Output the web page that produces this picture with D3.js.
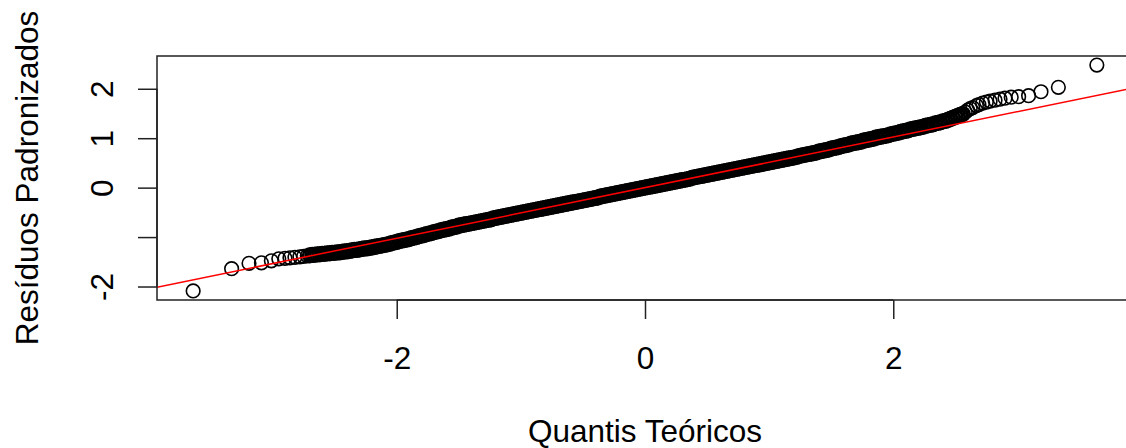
<!DOCTYPE html>
<html>
<head>
<meta charset="utf-8">
<script src="https://cdn.jsdelivr.net/npm/d3@7"></script>
<style>
  html, body { margin: 0; padding: 0; background: #fff; }
  svg { display: block; }
</style>
</head>
<body>
<svg class="chart"></svg>
<script>
// Theoretical quantiles and standardized residuals
const leftTailX = [-3.64, -3.33, -3.19, -3.09, -3.01, -2.95, -2.90, -2.86, -2.82, -2.78, -2.75, -2.72];
const leftTailY = [-2.09, -1.64, -1.53, -1.52, -1.48, -1.44, -1.43, -1.42, -1.41, -1.40, -1.39, -1.38];

const bandX = [
  -2.70, -2.68, -2.66, -2.64, -2.62, -2.60, -2.58, -2.56, -2.54, -2.52,
  -2.50, -2.48, -2.46, -2.44, -2.42, -2.40, -2.38, -2.36, -2.34, -2.32,
  -2.30, -2.28, -2.26, -2.24, -2.22, -2.20, -2.18, -2.16, -2.14, -2.12,
  -2.10, -2.08, -2.06, -2.04, -2.02, -2.00, -1.98, -1.96, -1.94, -1.92,
  -1.90, -1.88, -1.86, -1.84, -1.82, -1.80, -1.78, -1.76, -1.74, -1.72,
  -1.70, -1.68, -1.66, -1.64, -1.62, -1.60, -1.58, -1.56, -1.54, -1.52,
  -1.50, -1.48, -1.46, -1.44, -1.42, -1.40, -1.38, -1.36, -1.34, -1.32,
  -1.30, -1.28, -1.26, -1.24, -1.22, -1.20, -1.18, -1.16, -1.14, -1.12,
  -1.10, -1.08, -1.06, -1.04, -1.02, -1.00, -0.98, -0.96, -0.94, -0.92,
  -0.90, -0.88, -0.86, -0.84, -0.82, -0.80, -0.78, -0.76, -0.74, -0.72,
  -0.70, -0.68, -0.66, -0.64, -0.62, -0.60, -0.58, -0.56, -0.54, -0.52,
  -0.50, -0.48, -0.46, -0.44, -0.42, -0.40, -0.38, -0.36, -0.34, -0.32,
  -0.30, -0.28, -0.26, -0.24, -0.22, -0.20, -0.18, -0.16, -0.14, -0.12,
  -0.10, -0.08, -0.06, -0.04, -0.02, 0.00, 0.02, 0.04, 0.06, 0.08,
  0.10, 0.12, 0.14, 0.16, 0.18, 0.20, 0.22, 0.24, 0.26, 0.28,
  0.30, 0.32, 0.34, 0.36, 0.38, 0.40, 0.42, 0.44, 0.46, 0.48,
  0.50, 0.52, 0.54, 0.56, 0.58, 0.60, 0.62, 0.64, 0.66, 0.68,
  0.70, 0.72, 0.74, 0.76, 0.78, 0.80, 0.82, 0.84, 0.86, 0.88,
  0.90, 0.92, 0.94, 0.96, 0.98, 1.00, 1.02, 1.04, 1.06, 1.08,
  1.10, 1.12, 1.14, 1.16, 1.18, 1.20, 1.22, 1.24, 1.26, 1.28,
  1.30, 1.32, 1.34, 1.36, 1.38, 1.40, 1.42, 1.44, 1.46, 1.48,
  1.50, 1.52, 1.54, 1.56, 1.58, 1.60, 1.62, 1.64, 1.66, 1.68,
  1.70, 1.72, 1.74, 1.76, 1.78, 1.80, 1.82, 1.84, 1.86, 1.88,
  1.90, 1.92, 1.94, 1.96, 1.98, 2.00, 2.02, 2.04, 2.06, 2.08,
  2.10, 2.12, 2.14, 2.16, 2.18, 2.20, 2.22, 2.24, 2.26, 2.28,
  2.30, 2.32, 2.34, 2.36, 2.38, 2.40, 2.42, 2.44, 2.46, 2.48,
  2.50, 2.52, 2.54, 2.56
];
const bandY = [
  -1.37, -1.36, -1.36, -1.35, -1.35, -1.34, -1.34, -1.33, -1.33, -1.32,
  -1.32, -1.31, -1.31, -1.30, -1.29, -1.29, -1.28, -1.27, -1.26, -1.26,
  -1.25, -1.24, -1.23, -1.23, -1.22, -1.21, -1.20, -1.19, -1.18, -1.17,
  -1.16, -1.15, -1.14, -1.12, -1.11, -1.10, -1.08, -1.07, -1.06, -1.05,
  -1.04, -1.02, -1.01, -1.00, -0.98, -0.97, -0.96, -0.94, -0.93, -0.92,
  -0.90, -0.89, -0.88, -0.86, -0.85, -0.84, -0.83, -0.81, -0.80, -0.79,
  -0.77, -0.76, -0.75, -0.74, -0.73, -0.72, -0.71, -0.70, -0.69, -0.68,
  -0.67, -0.66, -0.65, -0.64, -0.62, -0.61, -0.60, -0.59, -0.58, -0.57,
  -0.56, -0.55, -0.54, -0.53, -0.52, -0.51, -0.50, -0.49, -0.48, -0.47,
  -0.46, -0.45, -0.44, -0.43, -0.42, -0.41, -0.40, -0.39, -0.38, -0.37,
  -0.36, -0.35, -0.34, -0.33, -0.32, -0.31, -0.30, -0.29, -0.28, -0.27,
  -0.26, -0.25, -0.24, -0.23, -0.22, -0.21, -0.20, -0.18, -0.17, -0.16,
  -0.15, -0.14, -0.13, -0.12, -0.11, -0.10, -0.09, -0.08, -0.07, -0.06,
  -0.05, -0.04, -0.03, -0.02, -0.01, 0.00, 0.01, 0.02, 0.03, 0.04,
  0.05, 0.06, 0.07, 0.08, 0.09, 0.10, 0.11, 0.12, 0.13, 0.14,
  0.15, 0.16, 0.17, 0.18, 0.20, 0.21, 0.22, 0.23, 0.24, 0.25,
  0.26, 0.27, 0.28, 0.29, 0.30, 0.31, 0.32, 0.33, 0.34, 0.35,
  0.36, 0.37, 0.38, 0.39, 0.40, 0.41, 0.42, 0.43, 0.44, 0.45,
  0.46, 0.47, 0.48, 0.49, 0.50, 0.51, 0.52, 0.53, 0.54, 0.55,
  0.56, 0.57, 0.58, 0.59, 0.60, 0.61, 0.62, 0.64, 0.65, 0.66,
  0.67, 0.68, 0.69, 0.70, 0.71, 0.73, 0.74, 0.75, 0.76, 0.77,
  0.79, 0.80, 0.81, 0.82, 0.84, 0.85, 0.86, 0.87, 0.89, 0.90,
  0.91, 0.92, 0.93, 0.95, 0.96, 0.97, 0.98, 0.99, 1.01, 1.02,
  1.03, 1.04, 1.05, 1.06, 1.08, 1.09, 1.10, 1.11, 1.13, 1.14,
  1.15, 1.16, 1.18, 1.19, 1.20, 1.21, 1.22, 1.23, 1.25, 1.26,
  1.27, 1.28, 1.30, 1.31, 1.32, 1.34, 1.35, 1.37, 1.39, 1.41,
  1.43, 1.45, 1.47, 1.49
];

const rightTailX = [2.58, 2.60, 2.62, 2.64, 2.67, 2.69, 2.72, 2.75, 2.78, 2.82, 2.86, 2.90, 2.95, 3.01, 3.09, 3.19, 3.33, 3.64];
const rightTailY = [1.53, 1.57, 1.60, 1.62, 1.66, 1.68, 1.71, 1.73, 1.75, 1.77, 1.79, 1.81, 1.83, 1.84, 1.86, 1.94, 2.03, 2.48];

// qqline (red reference line)
const lineSlope = 0.512;
const lineIntercept = 0;

const xTicks = [-2, 0, 2];
const xTickLabels = ['-2', '0', '2'];
const yTicks = [-2, -1, 0, 1, 2];
const yTickLabels = ['-2', '', '0', '1', '2'];

const xTitle = 'Quantis Teóricos';
const yTitle = 'Resíduos Padronizados';

// ---- layout ----
const svgWidth = 1126;
const svgHeight = 448;
const plot = { left: 157, top: 56, right: 1133, bottom: 300 };
const font = '"Liberation Sans", Arial, Helvetica, sans-serif';
const fontSize = 31.5;

const tails = []
  .concat(leftTailX.map((x, i) => ({ x: x, y: leftTailY[i] })))
  .concat(rightTailX.map((x, i) => ({ x: x, y: rightTailY[i] })));
const band = bandX.map((x, i) => ({ x: x, y: bandY[i] }));
const points = tails.concat(band);

// R style axis limits: data range extended by 4%
function rLimits(values) {
  const [lo, hi] = d3.extent(values);
  const pad = (hi - lo) * 0.04;
  return [lo - pad, hi + pad];
}

const xScale = d3.scaleLinear()
  .domain(rLimits(points.map(d => d.x)))
  .range([plot.left, plot.right]);

const yScale = d3.scaleLinear()
  .domain(rLimits(points.map(d => d.y)))
  .range([plot.bottom, plot.top]);

const svg = d3.select('.chart')
  .attr('width', svgWidth)
  .attr('height', svgHeight);

svg.append('defs').append('clipPath')
  .attr('id', 'plot-clip')
  .append('rect')
  .attr('x', plot.left)
  .attr('y', plot.top)
  .attr('width', plot.right - plot.left)
  .attr('height', plot.bottom - plot.top);

const inner = svg.append('g').attr('clip-path', 'url(#plot-clip)');

// points (open circles); the dense middle is drawn a little heavier so it
// closes up into the solid band the thousands of overlapping points make
function drawPoints(data, cls, strokeWidth) {
  inner.selectAll('.' + cls)
    .data(data)
    .enter()
    .append('circle')
    .attr('class', cls)
    .attr('cx', d => xScale(d.x))
    .attr('cy', d => yScale(d.y))
    .attr('r', 6.8)
    .attr('fill', 'none')
    .attr('stroke', '#000')
    .attr('stroke-width', strokeWidth);
}
drawPoints(band, 'pt-band', 2.6);
drawPoints(tails, 'pt-tail', 1.6);

// qq line
const xd = xScale.domain();
inner.append('path')
  .datum(xd.map(x => ({ x: x, y: lineIntercept + lineSlope * x })))
  .attr('d', d3.line().x(d => xScale(d.x)).y(d => yScale(d.y)))
  .attr('fill', 'none')
  .attr('stroke', '#ff0000')
  .attr('stroke-width', 1.5);

// box
svg.append('rect')
  .attr('x', plot.left)
  .attr('y', plot.top)
  .attr('width', plot.right - plot.left)
  .attr('height', plot.bottom - plot.top)
  .attr('fill', 'none')
  .attr('stroke', '#222')
  .attr('stroke-width', 1.5);

// x axis
const xAxisGroup = svg.append('g')
  .attr('transform', 'translate(0,' + plot.bottom + ')')
  .call(d3.axisBottom(xScale).tickValues(xTicks).tickSize(19)
    .tickFormat((d, i) => xTickLabels[i]));
xAxisGroup.select('.domain').remove();
xAxisGroup.append('line')
  .attr('x1', xScale(xTicks[0])).attr('x2', xScale(xTicks[xTicks.length - 1]))
  .attr('stroke', '#222').attr('stroke-width', 1.5);
xAxisGroup.selectAll('.tick line').attr('stroke', '#222').attr('stroke-width', 1.5);
xAxisGroup.selectAll('.tick text')
  .attr('y', 69)
  .attr('dy', 0)
  .attr('fill', '#000')
  .attr('font-family', font)
  .attr('font-size', fontSize);

// y axis
const yAxisGroup = svg.append('g')
  .attr('transform', 'translate(' + plot.left + ',0)')
  .call(d3.axisLeft(yScale).tickValues(yTicks).tickSize(19)
    .tickFormat((d, i) => yTickLabels[i]));
yAxisGroup.select('.domain').remove();
yAxisGroup.append('line')
  .attr('y1', yScale(yTicks[0])).attr('y2', yScale(yTicks[yTicks.length - 1]))
  .attr('stroke', '#222').attr('stroke-width', 1.5);
yAxisGroup.selectAll('.tick line').attr('stroke', '#222').attr('stroke-width', 1.5);
yAxisGroup.selectAll('.tick text')
  .attr('x', 0)
  .attr('y', 0)
  .attr('dy', 0)
  .attr('transform', 'translate(-44,0) rotate(-90)')
  .attr('text-anchor', 'middle')
  .attr('fill', '#000')
  .attr('font-family', font)
  .attr('font-size', fontSize);

// axis titles
svg.append('text')
  .attr('x', (plot.left + plot.right) / 2)
  .attr('y', 442)
  .attr('text-anchor', 'middle')
  .attr('fill', '#000')
  .attr('font-family', font)
  .attr('font-size', fontSize)
  .text(xTitle);

svg.append('text')
  .attr('transform', 'translate(38,' + (plot.top + plot.bottom) / 2 + ') rotate(-90)')
  .attr('text-anchor', 'middle')
  .attr('fill', '#000')
  .attr('font-family', font)
  .attr('font-size', fontSize)
  .text(yTitle);
</script>
</body>
</html>
